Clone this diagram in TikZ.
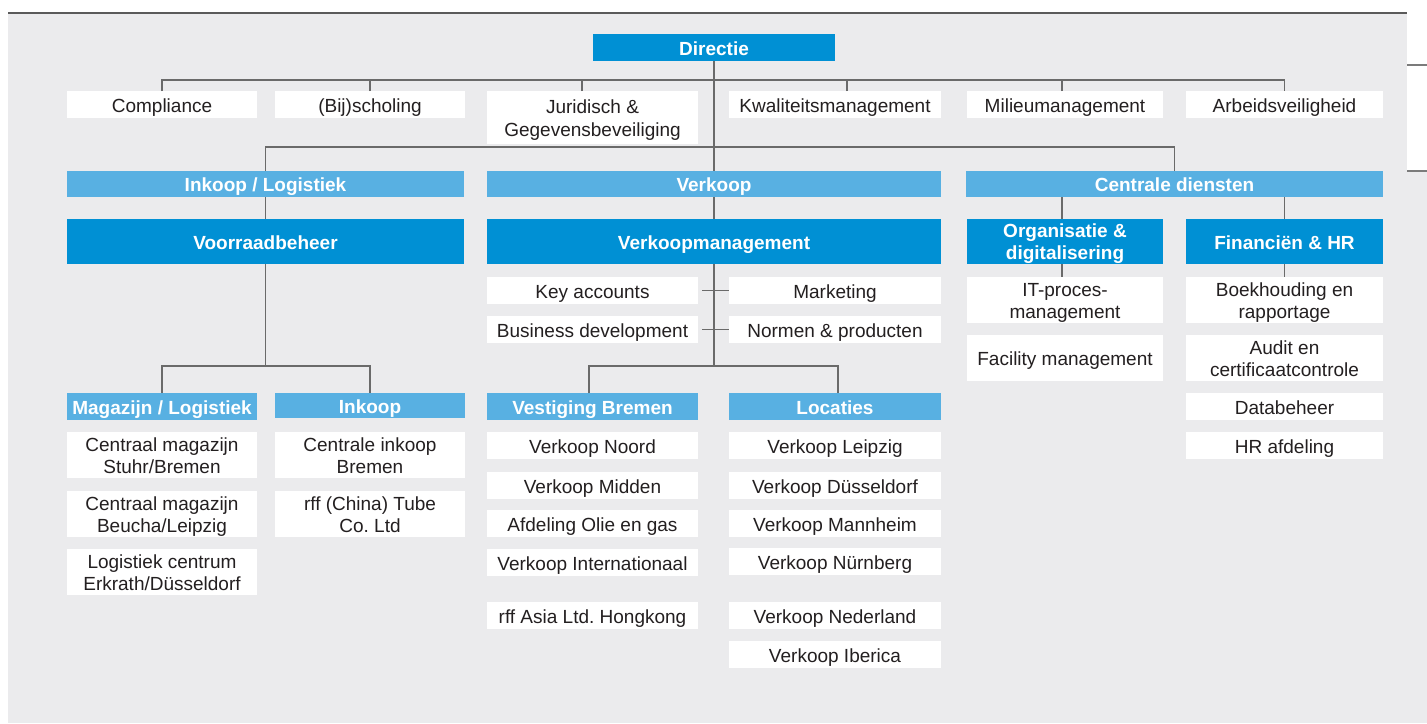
\documentclass[tikz,border=0pt]{standalone}
\usepackage{fontspec}
\setmainfont{Liberation Sans}
\frenchspacing
\definecolor{bg}{HTML}{EBEBED}
\definecolor{dblue}{HTML}{0090D4}
\definecolor{lblue}{HTML}{58B0E2}
\definecolor{ink}{HTML}{231F20}
\definecolor{conn}{HTML}{6A6A6A}
\definecolor{rule}{HTML}{5A5A5A}
\newcommand\orgbox[7]{\node[#1, minimum width={#5-#3}, minimum height={#6-#4}] (#2) at ({(#3+#5)/2},{(#4+#6)/2}) {#7};}
\newcommand\orgboxm[7]{\node[#1, multi, minimum width={#5-#3}, minimum height={#6-#4}] (#2) at ({(#3+#5)/2},{(#4+#6)/2}) {\rule{0pt}{19pt}#7\rule[-4pt]{0pt}{4pt}};}
\tikzset{
  base/.style={rectangle, inner sep=0pt, outer sep=0pt, align=center,
    text height=19pt, text depth=3.5pt},
  multi/.style={text height={}, text depth={}},
  wbox/.style={base, fill=white, text=ink, font=\fontsize{19}{22}\selectfont\frenchspacing},
  dbox/.style={base, fill=dblue, text=white, font=\fontsize{19}{22}\selectfont\bfseries},
  lbox/.style={base, fill=lblue, text=white, font=\fontsize{19}{22}\selectfont\bfseries},
  link/.style={draw=conn, line width=1.3pt}
}
\begin{document}
\begin{tikzpicture}[x=1pt,y=-1pt]
\useasboundingbox (0,0) rectangle (1427,723);
\fill[white] (0,0) rectangle (1427,723);
\fill[bg] (8,13) rectangle (1407,723);
\fill[bg] (1407,171) rectangle (1427,723);
\draw[rule, line width=2.2pt] (8,13) -- (1407,13);
\draw[rule!80, line width=1.6pt] (1407,65) -- (1427,65);
\draw[rule!80, line width=1.6pt] (1407,171) -- (1427,171);

% top
\orgbox{dbox}{dir}{593}{34}{835}{61}{Directie}
\orgbox{wbox}{comp}{67}{91}{257}{118}{Compliance}
\orgbox{wbox}{bij}{275}{91}{465}{118}{(Bij)scholing}
\orgboxm{wbox,font=\fontsize{19}{23}\selectfont}{jur}{487}{91}{698}{144}{Juridisch \&\\Gegevensbeveiliging}
\orgbox{wbox}{kwal}{729}{91}{941}{118}{Kwaliteitsmanagement}
\orgbox{wbox}{mil}{967}{91}{1163}{118}{Milieumanagement}
\orgbox{wbox}{arb}{1186}{91}{1383}{118}{Arbeidsveiligheid}

% level 2
\orgbox{lbox}{inklog}{67}{171}{464}{197}{Inkoop / Logistiek}
\orgbox{lbox}{verk}{487}{171}{941}{197}{Verkoop}
\orgbox{lbox}{cd}{966}{171}{1383}{197}{Centrale diensten}

% level 3
\orgbox{dbox}{voor}{67}{219}{464}{264}{Voorraadbeheer}
\orgbox{dbox}{vm}{487}{219}{941}{264}{Verkoopmanagement}
\orgboxm{dbox}{org}{967}{219}{1163}{264}{Organisatie \&\\digitalisering}
\orgbox{dbox}{fin}{1186}{219}{1383}{264}{Financiën \& HR}

% verkoop staff
\orgbox{wbox}{key}{487}{277}{698}{304}{Key accounts}
\orgbox{wbox}{mkt}{729}{277}{941}{304}{Marketing}
\orgbox{wbox}{bus}{487}{316}{698}{343}{Business development}
\orgbox{wbox}{norm}{729}{316}{941}{343}{Normen \& producten}

% inkoop / logistiek
\orgbox{lbox}{mag}{67}{393}{257}{420}{Magazijn / Logistiek}
\orgbox{lbox}{ink}{275}{393}{465}{418}{Inkoop}
\orgboxm{wbox}{cm1}{67}{432}{257}{478}{Centraal magazijn\\Stuhr/Bremen}
\orgboxm{wbox}{cm2}{67}{491}{257}{537}{Centraal magazijn\\Beucha/Leipzig}
\orgboxm{wbox}{lc}{67}{549}{257}{595}{Logistiek centrum\\Erkrath/Düsseldorf}
\orgboxm{wbox}{ci}{275}{432}{465}{478}{Centrale inkoop\\Bremen}
\orgboxm{wbox}{rffc}{275}{491}{465}{537}{rff (China) Tube\\Co. Ltd}

% verkoop
\orgbox{lbox}{vb}{487}{393}{698}{420}{Vestiging Bremen}
\orgbox{lbox}{loc}{729}{393}{941}{420}{Locaties}
\orgbox{wbox}{vn}{487}{432}{698}{459}{Verkoop Noord}
\orgbox{wbox}{vmid}{487}{472}{698}{499}{Verkoop Midden}
\orgbox{wbox}{olie}{487}{510}{698}{537}{Afdeling Olie en gas}
\orgbox{wbox}{vint}{487}{549}{698}{576}{Verkoop Internationaal}
\orgbox{wbox}{asia}{487}{602}{698}{629}{rff Asia Ltd. Hongkong}
\orgbox{wbox}{vlei}{729}{432}{941}{459}{Verkoop Leipzig}
\orgbox{wbox}{vdus}{729}{472}{941}{499}{Verkoop Düsseldorf}
\orgbox{wbox}{vman}{729}{510}{941}{537}{Verkoop Mannheim}
\orgbox{wbox}{vnur}{729}{548}{941}{575}{Verkoop Nürnberg}
\orgbox{wbox}{vned}{729}{602}{941}{629}{Verkoop Nederland}
\orgbox{wbox}{vibe}{729}{641}{941}{668}{Verkoop Iberica}

% centrale diensten
\orgboxm{wbox}{itp}{967}{277}{1163}{323}{IT-proces-\\management}
\orgbox{wbox}{fac}{967}{335}{1163}{381}{Facility management}
\orgboxm{wbox}{boek}{1186}{277}{1383}{323}{Boekhouding en\\rapportage}
\orgboxm{wbox}{aud}{1186}{335}{1383}{381}{Audit en\\certificaatcontrole}
\orgbox{wbox}{datab}{1186}{393}{1383}{420}{Databeheer}
\orgbox{wbox}{hr}{1186}{432}{1383}{459}{HR afdeling}

% helper coordinates
\coordinate (staffy) at (0,80);
\coordinate (divy) at (0,147);
\coordinate (subl) at (0,366);
\coordinate (jurtick) at (582,91);
\coordinate (kwaltick) at (847,91);
\coordinate (miltick) at (1062,91);
\coordinate (vbtick) at (589,393);
\coordinate (loctick) at (838,393);
\coordinate (orgtick) at (1062,219);
\coordinate (ittick) at (1062,277);

% connectors
\draw[link] (dir.south) -- (verk.north);
\draw[link] (comp.north) -- (comp.north |- staffy) -- (arb.north |- staffy) -- (arb.north);
\draw[link] (bij.north) -- (bij.north |- staffy);
\draw[link] (jurtick) -- (jurtick |- staffy);
\draw[link] (kwaltick) -- (kwaltick |- staffy);
\draw[link] (miltick) -- (miltick |- staffy);
\draw[link] (inklog.north) -- (inklog.north |- divy) -- (cd.north |- divy) -- (cd.north);
\draw[link] (inklog.south) -- (voor.north);
\draw[link] (verk.south) -- (vm.north);
\draw[link] (orgtick |- cd.south) -- (orgtick);
\draw[link] (fin.north |- cd.south) -- (fin.north);
\draw[link] (orgtick |- org.south) -- (ittick);
\draw[link] (fin.south) -- (boek.north);
\draw[link] (voor.south) -- (voor.south |- subl);
\draw[link] (mag.north) -- (mag.north |- subl) -- (ink.north |- subl) -- (ink.north);
\draw[link] (vm.south) -- (vm.south |- subl);
\draw[link] (vbtick) -- (vbtick |- subl) -- (loctick |- subl) -- (loctick);
\draw[link] ([xshift=4pt]key.east) -- (mkt.west);
\draw[link] ([xshift=4pt]bus.east) -- (norm.west);
\end{tikzpicture}
\end{document}
